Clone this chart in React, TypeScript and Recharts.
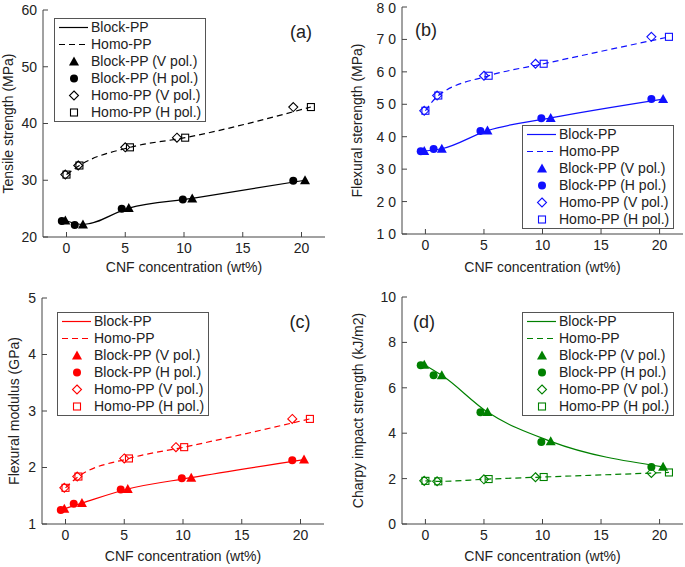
import React from 'react';
import { ComposedChart, Line, Scatter, XAxis, YAxis } from 'recharts';

const FONT = "Arial, 'Liberation Sans', sans-serif";
const TEXT = '#222';
const FRAME = '#444';

// x positions of the markers (V / H pol. sets are drawn slightly offset)
const blockHX = [-0.4, 0.7, 4.7, 9.9, 19.3];
const blockVX = [-0.1, 1.4, 5.3, 10.7, 20.3];
const homoVX = [-0.1, 1.0, 5.0, 9.4, 19.3];
const homoHX = [0.0, 1.1, 5.4, 10.1, 20.8];
const xTicks = [0, 5, 10, 15, 20];

// (a) tensile strength (MPa)
const tensileBlockH = [22.8, 22.1, 25.0, 26.6, 29.9];
const tensileBlockV = [22.9, 22.2, 25.1, 26.8, 30.0];
const tensileHomoV = [31.0, 32.6, 35.8, 37.5, 42.9];
const tensileHomoH = [31.0, 32.6, 35.8, 37.5, 42.9];
const tensileTicks = [20, 30, 40, 50, 60];

// (b) flexural strength (MPa)
const flexBlockH = [35.5, 36.2, 41.8, 45.7, 51.6];
const flexBlockV = [35.6, 36.3, 41.9, 45.8, 51.6];
const flexHomoV = [48.0, 52.7, 58.8, 62.5, 70.8];
const flexHomoH = [48.0, 52.7, 58.8, 62.5, 70.8];
const flexTicks = [10, 20, 30, 40, 50, 60, 70, 80];

// (c) flexural modulus (GPa)
const modBlockH = [1.25, 1.36, 1.61, 1.81, 2.13];
const modBlockV = [1.27, 1.37, 1.62, 1.82, 2.14];
const modHomoV = [1.64, 1.84, 2.16, 2.36, 2.86];
const modHomoH = [1.64, 1.84, 2.16, 2.36, 2.86];
const modTicks = [1, 2, 3, 4, 5];

// (d) charpy impact strength (kJ/m2)
const impBlockH = [6.99, 6.55, 4.92, 3.61, 2.51];
const impBlockV = [7.02, 6.55, 4.93, 3.64, 2.52];
const impHomoV = [1.9, 1.88, 1.97, 2.06, 2.25];
const impHomoH = [1.9, 1.88, 1.98, 2.07, 2.27];
const impTicks = [0, 2, 4, 6, 8, 10];

const legendLabels = ['Block-PP', 'Homo-PP', 'Block-PP (V pol.)', 'Block-PP (H pol.)', 'Homo-PP (V pol.)', 'Homo-PP (H pol.)'];

const pts = (xs: number[], ys: number[]) => xs.map((x, i) => ({ x, y: ys[i] }));

const Marker = ({ kind, cx, cy, color }: any) => {
  if (cx == null || cy == null) return null;
  switch (kind) {
    case 'tri':
      return <polygon points={`${cx},${cy - 5} ${cx + 5},${cy + 4} ${cx - 5},${cy + 4}`} fill={color} />;
    case 'circ':
      return <circle cx={cx} cy={cy} r={4} fill={color} />;
    case 'dia':
      return (
        <polygon
          points={`${cx},${cy - 4.5} ${cx + 4.5},${cy} ${cx},${cy + 4.5} ${cx - 4.5},${cy}`}
          fill="none"
          stroke={color}
          strokeWidth={1.1}
        />
      );
    default:
      return <rect x={cx - 3.5} y={cy - 3.5} width={7} height={7} fill="none" stroke={color} strokeWidth={1.1} />;
  }
};

const Legend = ({ color, left, top }: any) => {
  const kinds = ['line', 'dash', 'tri', 'circ', 'dia', 'sq'];
  return (
    <div
      style={{
        position: 'absolute',
        left,
        top,
        border: '1px solid #555',
        background: '#fff',
        paddingRight: 4,
        fontFamily: FONT,
        fontSize: 14,
        color: TEXT,
      }}
    >
      {legendLabels.map((label, i) => (
        <div key={label} style={{ display: 'flex', alignItems: 'center', height: 17 }}>
          <svg width={36} height={17} style={{ flex: 'none' }}>
            {kinds[i] === 'line' && <line x1={4} x2={33} y1={8.5} y2={8.5} stroke={color} strokeWidth={1.2} />}
            {kinds[i] === 'dash' && (
              <line x1={4} x2={33} y1={8.5} y2={8.5} stroke={color} strokeWidth={1.2} strokeDasharray="6 4" />
            )}
            {kinds[i] !== 'line' && kinds[i] !== 'dash' && <Marker kind={kinds[i]} cx={19} cy={8.5} color={color} />}
          </svg>
          <span style={{ whiteSpace: 'nowrap', lineHeight: '17px' }}>{label}</span>
        </div>
      ))}
    </div>
  );
};

const Panel = (p: any) => {
  const { left, top, width, height, plot, color, yLabel, yLabelX, xLabelOffset, yTicks, letterSpacing = 0 } = p;
  const tickStyle = { fontSize: 14, fontFamily: FONT, fill: TEXT };
  return (
    <div style={{ position: 'absolute', left, top, width, height }}>
      <ComposedChart
        width={width}
        height={height}
        margin={{ top: plot.top, right: width - plot.right, bottom: 0, left: 0 }}
      >
        <XAxis
          dataKey="x"
          type="number"
          domain={[-2, 22]}
          ticks={xTicks}
          height={height - plot.bottom}
          tickSize={-5}
          tickMargin={11}
          tick={tickStyle}
          axisLine={{ stroke: FRAME }}
          tickLine={{ stroke: FRAME }}
          label={{
            value: 'CNF concentration (wt%)',
            position: 'insideBottom',
            offset: xLabelOffset,
            style: { fontSize: 14, fontFamily: FONT, fill: TEXT },
          }}
        />
        <XAxis
          xAxisId="top"
          orientation="top"
          type="number"
          domain={[-2, 22]}
          ticks={xTicks}
          height={0}
          tick={false}
          tickSize={-5}
          axisLine={{ stroke: FRAME }}
          tickLine={{ stroke: FRAME }}
        />
        <YAxis
          dataKey="y"
          type="number"
          domain={[yTicks[0], yTicks[yTicks.length - 1]]}
          ticks={yTicks}
          width={plot.left}
          tickSize={-5}
          tickMargin={11 - letterSpacing}
          tick={{ ...tickStyle, letterSpacing }}
          axisLine={{ stroke: FRAME }}
          tickLine={{ stroke: FRAME }}
          label={{
            value: yLabel,
            angle: -90,
            position: 'insideLeft',
            offset: yLabelX,
            style: { textAnchor: 'middle', fontSize: 14, fontFamily: FONT, fill: TEXT },
          }}
        />
        <YAxis
          yAxisId="right"
          orientation="right"
          type="number"
          domain={[yTicks[0], yTicks[yTicks.length - 1]]}
          ticks={yTicks}
          width={0}
          tick={false}
          tickSize={-5}
          axisLine={{ stroke: FRAME }}
          tickLine={{ stroke: FRAME }}
        />
        <Line
          data={pts(blockVX, p.blockV)}
          dataKey="y"
          type="monotone"
          stroke={color}
          strokeWidth={1.2}
          dot={false}
          activeDot={false}
          isAnimationActive={false}
        />
        <Line
          data={pts(homoHX, p.homoH)}
          dataKey="y"
          type="monotone"
          stroke={color}
          strokeWidth={1.2}
          strokeDasharray="6 4"
          dot={false}
          activeDot={false}
          isAnimationActive={false}
        />
        <Scatter data={pts(blockVX, p.blockV)} isAnimationActive={false} shape={(s: any) => <Marker kind="tri" cx={s.cx} cy={s.cy} color={color} />} />
        <Scatter data={pts(blockHX, p.blockH)} isAnimationActive={false} shape={(s: any) => <Marker kind="circ" cx={s.cx} cy={s.cy} color={color} />} />
        <Scatter data={pts(homoVX, p.homoV)} isAnimationActive={false} shape={(s: any) => <Marker kind="dia" cx={s.cx} cy={s.cy} color={color} />} />
        <Scatter data={pts(homoHX, p.homoH)} isAnimationActive={false} shape={(s: any) => <Marker kind="sq" cx={s.cx} cy={s.cy} color={color} />} />
      </ComposedChart>
      <Legend color={color} left={p.legend[0] - left} top={p.legend[1] - top} />
      <div
        style={{
          position: 'absolute',
          left: p.tag[0] - left - 20,
          top: p.tag[1] - top - 11,
          width: 40,
          textAlign: 'center',
          fontFamily: FONT,
          fontSize: 18,
          lineHeight: '22px',
          color: TEXT,
        }}
      >
        {p.tagText}
      </div>
    </div>
  );
};

export default function App() {
  return (
    <div style={{ position: 'absolute', left: 0, top: 0, width: 685, height: 567, background: '#fff' }}>
      <Panel
        left={0}
        top={0}
        width={340}
        height={280}
        plot={{ left: 43, top: 10, right: 325, bottom: 237 }}
        color="#000000"
        yLabel="Tensile strength (MPa)"
        yLabelX={8}
        xLabelOffset={8}
        yTicks={tensileTicks}
        blockH={tensileBlockH}
        blockV={tensileBlockV}
        homoV={tensileHomoV}
        homoH={tensileHomoH}
        legend={[54, 18]}
        tag={[301, 32]}
        tagText="(a)"
      />
      <Panel
        left={340}
        top={0}
        width={345}
        height={280}
        plot={{ left: 62, top: 7, right: 343, bottom: 234 }}
        color="#1010ff"
        yLabel="Flexural sterength (MPa)"
        yLabelX={17}
        xLabelOffset={8}
        yTicks={flexTicks}
        letterSpacing={4}
        blockH={flexBlockH}
        blockV={flexBlockV}
        homoV={flexHomoV}
        homoH={flexHomoH}
        legend={[522, 125]}
        tag={[426, 30]}
        tagText="(b)"
      />
      <Panel
        left={0}
        top={280}
        width={340}
        height={287}
        plot={{ left: 42, top: 18, right: 324, bottom: 244 }}
        color="#ff0000"
        yLabel="Flexural modulus (GPa)"
        yLabelX={14}
        xLabelOffset={6}
        yTicks={modTicks}
        blockH={modBlockH}
        blockV={modBlockV}
        homoV={modHomoV}
        homoH={modHomoH}
        legend={[57, 312]}
        tag={[300, 322]}
        tagText="(c)"
      />
      <Panel
        left={340}
        top={280}
        width={345}
        height={287}
        plot={{ left: 62, top: 17, right: 343, bottom: 244 }}
        color="#008000"
        yLabel="Charpy impact strength (kJ/m2)"
        yLabelX={18}
        xLabelOffset={6}
        yTicks={impTicks}
        blockH={impBlockH}
        blockV={impBlockV}
        homoV={impHomoV}
        homoH={impHomoH}
        legend={[522, 312]}
        tag={[424, 322]}
        tagText="(d)"
      />
    </div>
  );
}
